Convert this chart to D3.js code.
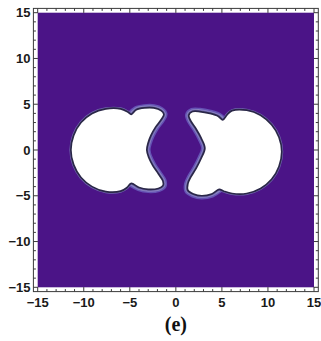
<!DOCTYPE html>
<html>
<head>
<meta charset="utf-8">
<script src="https://cdn.jsdelivr.net/npm/d3@7"></script>
<style>
  body { margin: 0; background: #fff; }
  svg { display: block; }
</style>
</head>
<body>
<script>
// Axis ticks
const xTicks = [-15, -10, -5, 0, 5, 10, 15];
const yTicks = [-15, -10, -5, 0, 5, 10, 15];
const minorStep = 1;

// Zero-level contour of the left lobe (x, y), traced clockwise from its leftmost point
const leftLobe = [
  [-11.4, 0.0], [-11.1, 1.6], [-10.3, 3.0], [-9.1, 4.0], [-7.6, 4.5], [-6.0, 4.5],
  [-5.2, 4.15], [-4.85, 3.9], [-4.3, 4.4], [-3.4, 4.6], [-2.4, 4.6], [-1.6, 4.3],
  [-1.3, 3.9], [-1.6, 3.3], [-2.2, 2.5], [-2.7, 1.6], [-3.0, 0.8], [-3.15, 0.0],
  [-2.95, -0.8], [-2.5, -1.7], [-1.9, -2.6], [-1.4, -3.4], [-1.4, -3.9], [-1.9, -4.2],
  [-3.0, -4.3], [-4.0, -4.1], [-4.85, -3.65], [-5.3, -4.1], [-6.0, -4.5], [-7.6, -4.55],
  [-9.1, -4.0], [-10.3, -3.0], [-11.1, -1.6]
];

// Zero-level contour of the right lobe (x, y), traced from its rightmost point
const rightLobe = [
  [11.5, -0.2], [11.2, -1.8], [10.4, -3.2], [9.2, -4.2], [7.7, -4.75], [6.1, -4.75],
  [5.2, -4.5], [4.7, -4.3], [3.9, -4.8], [2.8, -5.0], [1.9, -4.8], [1.3, -4.4],
  [1.3, -3.7], [1.6, -3.0], [2.2, -2.0], [2.75, -0.9], [3.15, 0.2], [2.75, 1.3],
  [2.2, 2.3], [1.6, 3.2], [1.4, 3.8], [1.8, 4.2], [2.6, 4.2], [3.7, 4.0],
  [4.6, 3.7], [5.1, 3.3], [5.6, 3.9], [6.1, 4.3], [7.7, 4.35], [9.2, 3.8],
  [10.4, 2.75], [11.2, 1.4]
];

// Outline stretches (first, last index) where the intermediate contour levels show
const leftBand = [7, 26];
const rightBand = [7, 25];

const caption = "(e)";

const W = 321, H = 341;
const x = d3.scaleLinear().domain([-15, 15]).range([37.7, 314]);
const y = d3.scaleLinear().domain([-15, 15]).range([287.3, 12.7]);
const pad = 4.3;

const svg = d3.select("body").append("svg")
  .attr("width", W).attr("height", H)
  .attr("viewBox", `0 0 ${W} ${H}`);

// Field background (lowest contour level)
svg.append("rect")
  .attr("x", x(-15)).attr("y", y(15))
  .attr("width", x(15) - x(-15)).attr("height", y(-15) - y(15))
  .attr("fill", "#4b1487");

const closed = d3.line().x(d => x(d[0])).y(d => y(d[1]))
  .curve(d3.curveCatmullRomClosed.alpha(0.5));
const open = d3.line().x(d => x(d[0])).y(d => y(d[1]))
  .curve(d3.curveCatmullRom.alpha(0.5));

function lobe(points, band) {
  const g = svg.append("g");
  const seg = points.slice(band[0], band[1] + 1);
  g.append("path").attr("d", open(seg))
    .attr("fill", "none").attr("stroke", "#6552b4")
    .attr("stroke-width", 7.5).attr("stroke-linecap", "round").attr("stroke-linejoin", "round");
  g.append("path").attr("d", open(seg))
    .attr("fill", "none").attr("stroke", "#8883c0")
    .attr("stroke-width", 4.6).attr("stroke-linecap", "round").attr("stroke-linejoin", "round");
  g.append("path").attr("d", closed(points))
    .attr("fill", "none").attr("stroke", "#6f65ad").attr("stroke-width", 3);
  g.append("path").attr("d", closed(points))
    .attr("fill", "#ffffff").attr("stroke", "#2a2748").attr("stroke-width", 1.7);
}
lobe(leftLobe, leftBand);
lobe(rightLobe, rightBand);

// Frame
const fx0 = x(-15) - pad, fx1 = x(15) + pad, fy0 = y(15) - pad, fy1 = y(-15) + pad;
svg.append("rect")
  .attr("x", fx0).attr("y", fy0)
  .attr("width", fx1 - fx0).attr("height", fy1 - fy0)
  .attr("fill", "none").attr("stroke", "#3a3a3a").attr("stroke-width", 1);

// Ticks on all four sides, pointing inward
const minor = d3.range(-15, 15 + minorStep / 2, minorStep).filter(v => !xTicks.includes(v));
const tickG = svg.append("g").attr("stroke", "#3a3a3a").attr("stroke-width", 1);
function ticksX(vals, len) {
  vals.forEach(v => {
    tickG.append("line").attr("x1", x(v)).attr("x2", x(v)).attr("y1", fy1).attr("y2", fy1 - len);
    tickG.append("line").attr("x1", x(v)).attr("x2", x(v)).attr("y1", fy0).attr("y2", fy0 + len);
  });
}
function ticksY(vals, len) {
  vals.forEach(v => {
    tickG.append("line").attr("y1", y(v)).attr("y2", y(v)).attr("x1", fx0).attr("x2", fx0 + len);
    tickG.append("line").attr("y1", y(v)).attr("y2", y(v)).attr("x1", fx1).attr("x2", fx1 - len);
  });
}
ticksX(xTicks, 4.5); ticksX(minor, 2.5);
ticksY(yTicks, 4.5); ticksY(minor, 2.5);

const fmt = v => (v < 0 ? "\u2212" + Math.abs(v) : String(v));
const labelStyle = sel => sel
  .attr("font-family", "'Liberation Sans', Arial, sans-serif")
  .attr("font-weight", "bold").attr("font-size", 13).attr("fill", "#1a1a1a");

svg.append("g").selectAll("text").data(xTicks).join("text")
  .attr("x", d => x(d)).attr("y", 307).attr("text-anchor", "middle")
  .text(fmt).call(labelStyle);

svg.append("g").selectAll("text").data(yTicks).join("text")
  .attr("x", 30.5).attr("y", d => y(d)).attr("dy", "0.36em").attr("text-anchor", "end")
  .text(fmt).call(labelStyle);

svg.append("text")
  .attr("x", x(0)).attr("y", 331)
  .attr("text-anchor", "middle")
  .attr("font-family", "'Liberation Serif', 'Times New Roman', serif")
  .attr("font-weight", "bold").attr("font-size", 20).attr("fill", "#111")
  .text(caption);
</script>
</body>
</html>
